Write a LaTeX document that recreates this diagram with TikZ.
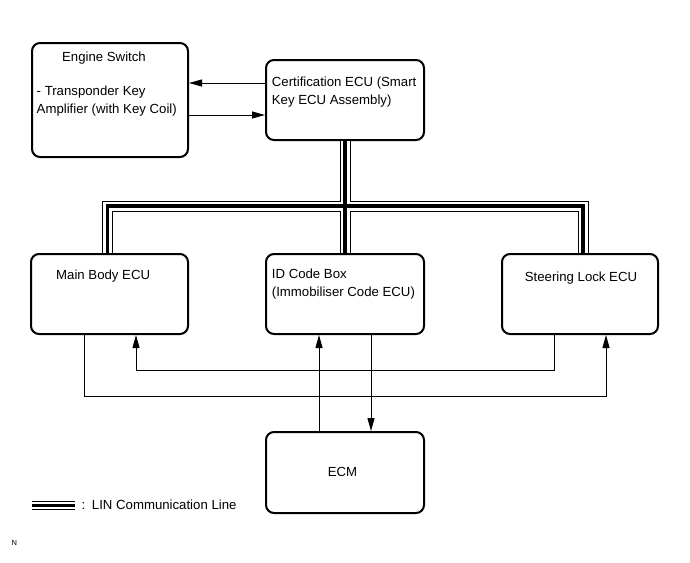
\documentclass[tikz,border=0pt]{standalone}
\usepackage{fontspec}
\setmainfont{Liberation Sans}
\usetikzlibrary{arrows.meta}
\begin{document}
\begin{tikzpicture}[x=1pt,y=-1pt,
  box/.style={draw, line width=2pt, rounded corners=8pt, outer sep=1pt, inner sep=0pt},
  lbl/.style={font=\fontsize{13.2}{16}\selectfont, inner sep=0pt},
  conn/.style={line width=1pt},
  arr/.style={conn, -{Triangle[length=13pt,width=7pt]}},
  lin/.style={line width=11pt, postaction={draw=white,line width=9pt}, postaction={draw=black,line width=3.5pt}},
  linkey/.style={line width=9pt, postaction={draw=white,line width=7pt}, postaction={draw=black,line width=3pt}}]
\useasboundingbox (0,0) rectangle (690,562);

% boxes
\node[box, minimum width=156pt, minimum height=114pt] (es) at (110,100) {};
\node[box, minimum width=158pt, minimum height=80pt] (cert) at (345,100) {};
\node[box, minimum width=157pt, minimum height=80pt] (main) at (109.5,294) {};
\node[box, minimum width=158pt, minimum height=80pt] (id) at (345,294) {};
\node[box, minimum width=156pt, minimum height=80pt] (steer) at (580,294) {};
\node[box, minimum width=158pt, minimum height=81pt] (ecm) at (345,472.5) {};

% texts
\node[lbl, anchor=base] (esT) at (104,61.7) {Engine Switch};
\node[lbl, anchor=base west] (esT2) at (36.5,95) {- Transponder Key};
\node[lbl, anchor=base west] (esT3) at (36.5,113) {Amplifier (with Key Coil)};
\node[lbl, anchor=base west] (certT1) at (271.7,86.7) {Certification ECU (Smart};
\node[lbl, anchor=base west] (certT2) at (271.7,104) {Key ECU Assembly)};
\node[lbl, anchor=base west] (mainT) at (56,279.5) {Main Body ECU};
\node[lbl, anchor=base west] (idT1) at (271.7,278.5) {ID Code Box};
\node[lbl, anchor=base west] (idT2) at (271.7,296) {(Immobiliser Code ECU)};
\node[lbl, anchor=base] (steerT) at (581,281.5) {Steering Lock ECU};
\node[lbl, anchor=base] (ecmT) at (342.5,476) {ECM};

% LIN bus
\coordinate (busL) at (107.5,206);
\coordinate (busR) at (583,206);
\draw[lin] (cert.south) -- (id.north)
  (main.north -| busL) -- (busL) -- (busR) -- (steer.north -| busR);

% engine switch <-> certification
\draw[arr] ([yshift=17pt]cert.west) -- ([yshift=17pt]cert.west -| es.east);
\draw[arr] ([yshift=-15pt]cert.west -| es.east) -- ([yshift=-15pt]cert.west);

% bottom loops
\coordinate (mOut) at ([xshift=-25.5pt]main.south);
\coordinate (mIn) at ([xshift=26.5pt]main.south);
\coordinate (sOut) at ([xshift=-26pt]steer.south);
\coordinate (sIn) at ([xshift=26pt]steer.south);
\coordinate (upBus) at (0,370);
\coordinate (lowBus) at (0,396);
\draw[arr] (mOut) -- (mOut |- lowBus) -| (sIn);
\draw[arr] (sOut) -- (sOut |- upBus) -| (mIn);

% ID code box <-> ECM
\coordinate (idOut) at ([xshift=26pt]id.south);
\coordinate (ecmOut) at ([xshift=-26pt]ecm.north);
\draw[arr] (idOut) -- (idOut |- ecm.north);
\draw[arr] (ecmOut) -- (ecmOut |- id.south);

% legend
\coordinate (k1) at (32,505.5);
\coordinate (k2) at (75,505.5);
\draw[linkey] (k1) -- (k2);
\node[lbl, anchor=base west] (keyT) at (81.5,509.3) {:\enspace LIN Communication Line};
\node[font=\fontsize{7.5}{9}\selectfont, anchor=base west, inner sep=0pt] (nT) at (11.5,545.5) {N};
\end{tikzpicture}
\end{document}
